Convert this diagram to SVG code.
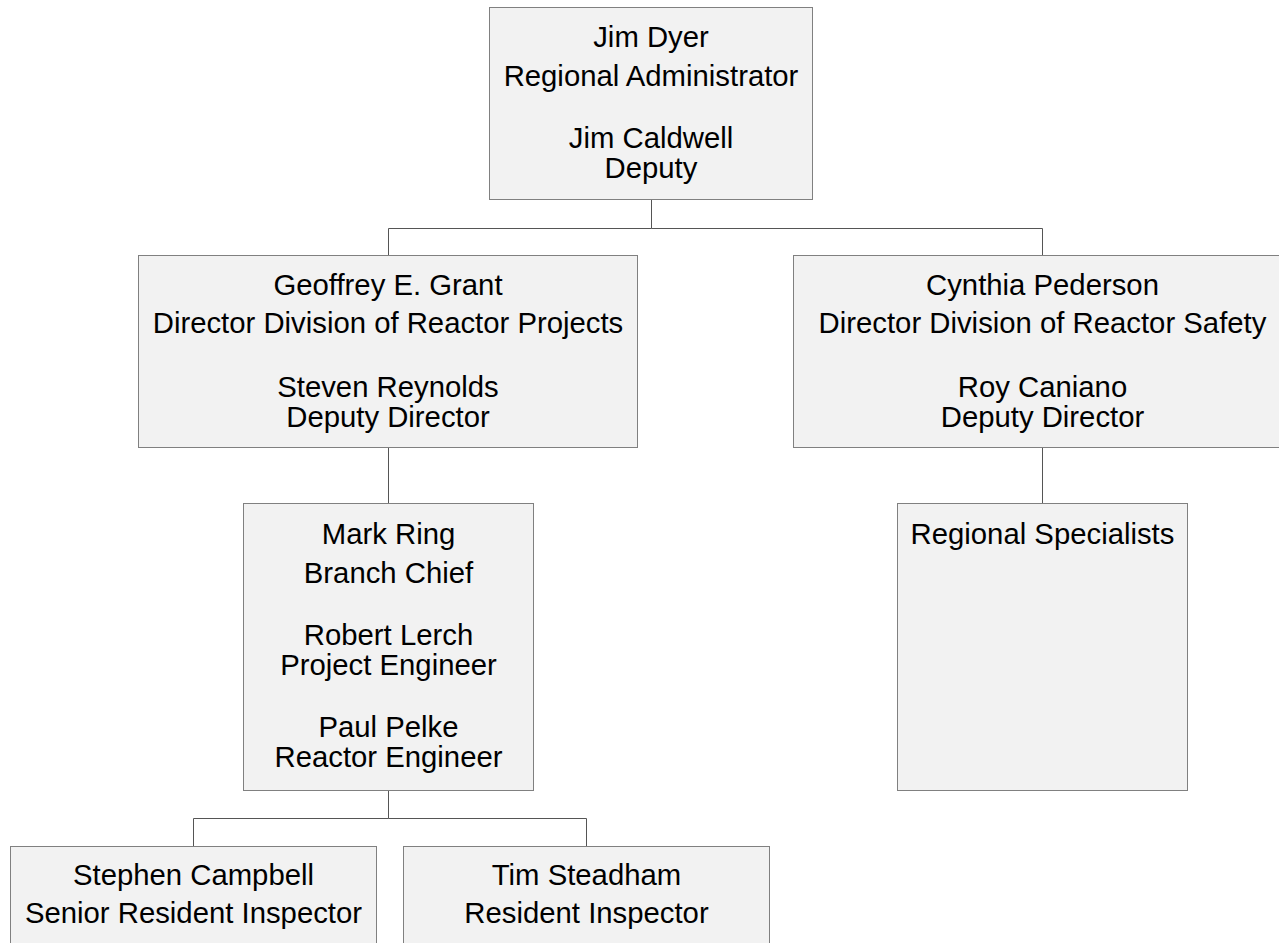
<svg xmlns="http://www.w3.org/2000/svg" width="1279" height="943" viewBox="0 0 1279 943">
<style>
.box{fill:#f2f2f2;stroke:#808080;stroke-width:1}
.t{font-family:"Liberation Sans",Arial,sans-serif;font-size:29.3px;fill:#000;text-anchor:middle}
.c{fill:none;stroke:#555;stroke-width:1}
</style>
<rect width="1279" height="943" fill="#fff"/>
<g id="connectors">
<path class="c" d="M651.5 199V228.5H388.5V255M651.5 228.5H1042.5V255"/>
<path class="c" d="M388.5 448V503"/>
<path class="c" d="M1042.5 448V503"/>
<path class="c" d="M388.5 790V818.5H193.5V846M388.5 818.5H586.5V846"/>
</g>
<g id="n-dyer">
<rect class="box" x="489.5" y="7.5" width="323" height="192"/>
<text class="t" x="651" y="47">Jim Dyer</text>
<text class="t" x="651" y="86">Regional Administrator</text>
<text class="t" x="651" y="148">Jim Caldwell</text>
<text class="t" x="651" y="178">Deputy</text>
</g>
<g id="n-grant">
<rect class="box" x="138.5" y="255.5" width="499" height="192"/>
<text class="t" x="388" y="295">Geoffrey E. Grant</text>
<text class="t" x="388" y="333">Director Division of Reactor Projects</text>
<text class="t" x="388" y="397">Steven Reynolds</text>
<text class="t" x="388" y="427">Deputy Director</text>
</g>
<g id="n-pederson">
<rect class="box" x="793.5" y="255.5" width="499" height="192"/>
<text class="t" x="1042.5" y="295">Cynthia Pederson</text>
<text class="t" x="1042.5" y="333">Director Division of Reactor Safety</text>
<text class="t" x="1042.5" y="397">Roy Caniano</text>
<text class="t" x="1042.5" y="427">Deputy Director</text>
</g>
<g id="n-ring">
<rect class="box" x="243.5" y="503.5" width="290" height="287"/>
<text class="t" x="388.5" y="544">Mark Ring</text>
<text class="t" x="388.5" y="583">Branch Chief</text>
<text class="t" x="388.5" y="645">Robert Lerch</text>
<text class="t" x="388.5" y="675">Project Engineer</text>
<text class="t" x="388.5" y="737">Paul Pelke</text>
<text class="t" x="388.5" y="767">Reactor Engineer</text>
</g>
<g id="n-specialists">
<rect class="box" x="897.5" y="503.5" width="290" height="287"/>
<text class="t" x="1042.5" y="544">Regional Specialists</text>
</g>
<g id="n-campbell">
<rect class="box" x="10.5" y="846.5" width="366" height="120"/>
<text class="t" x="193.5" y="885">Stephen Campbell</text>
<text class="t" x="193.5" y="923">Senior Resident Inspector</text>
</g>
<g id="n-steadham">
<rect class="box" x="403.5" y="846.5" width="366" height="120"/>
<text class="t" x="586.5" y="885">Tim Steadham</text>
<text class="t" x="586.5" y="923">Resident Inspector</text>
</g>
</svg>
